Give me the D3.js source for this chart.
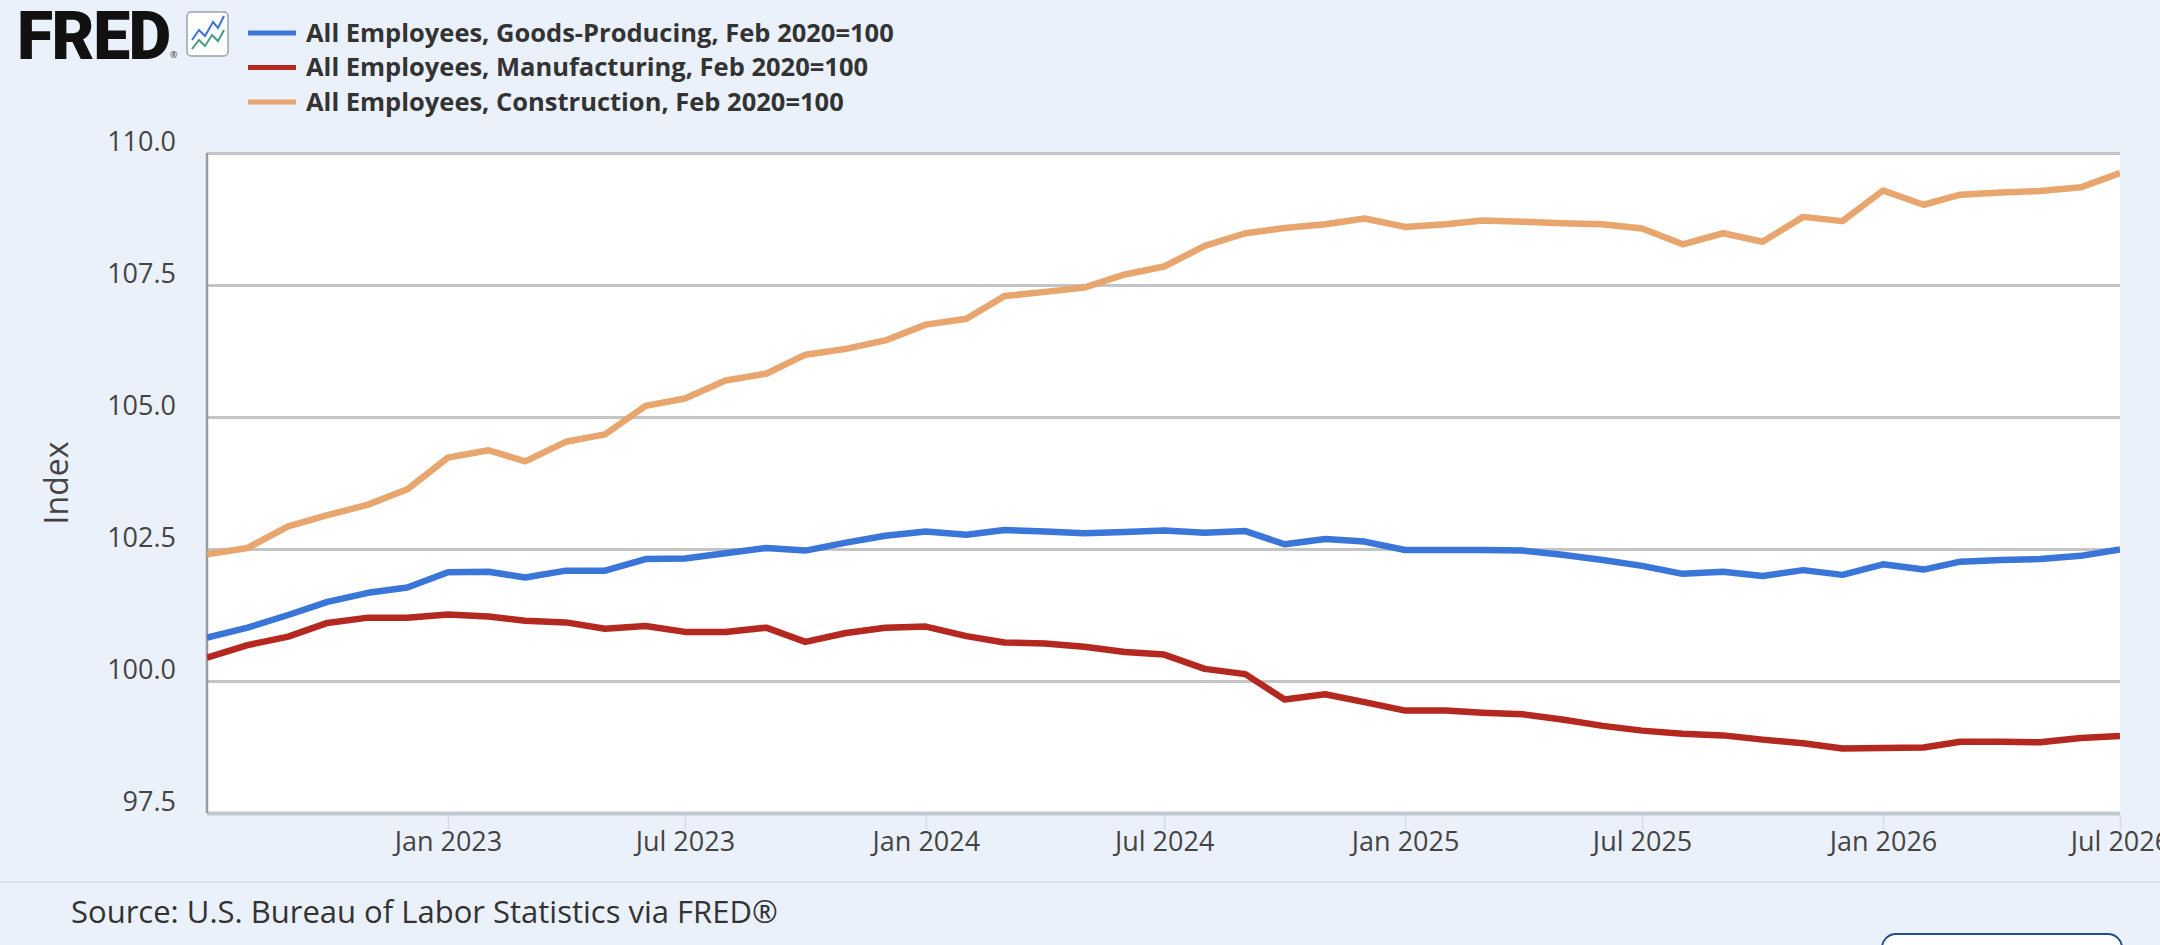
<!DOCTYPE html>
<meta charset="utf-8">
<script src="https://cdn.jsdelivr.net/npm/d3@7"></script>
<style>
  body { margin: 0; background: #ebf1fa; }
  text { font-family: "Open Sans", Roboto, "Noto Sans", Arial, sans-serif; }
</style>
<div id="chart"></div>
<script>

// monthly observations, Jul 2022 .. Jul 2026
var months = ["2022-07","2022-08","2022-09","2022-10","2022-11","2022-12",
  "2023-01","2023-02","2023-03","2023-04","2023-05","2023-06","2023-07","2023-08","2023-09","2023-10","2023-11","2023-12",
  "2024-01","2024-02","2024-03","2024-04","2024-05","2024-06","2024-07","2024-08","2024-09","2024-10","2024-11","2024-12",
  "2025-01","2025-02","2025-03","2025-04","2025-05","2025-06","2025-07","2025-08","2025-09","2025-10","2025-11","2025-12",
  "2026-01","2026-02","2026-03","2026-04","2026-05","2026-06","2026-07"];

var goodsProducing = [100.82,101.01,101.25,101.50,101.67,101.77,
  102.06,102.07,101.96,102.09,102.09,102.31,102.32,102.42,102.52,102.47,102.62,102.75,
  102.83,102.77,102.86,102.83,102.80,102.82,102.85,102.81,102.84,102.59,102.69,102.64,
  102.48,102.48,102.48,102.47,102.39,102.29,102.18,102.03,102.07,101.99,102.10,102.01,
  102.21,102.11,102.26,102.29,102.31,102.37,102.49];

var manufacturing = [100.44,100.68,100.84,101.10,101.20,101.20,
  101.26,101.22,101.14,101.11,100.99,101.04,100.93,100.93,101.01,100.74,100.91,101.01,
  101.03,100.85,100.73,100.71,100.65,100.55,100.50,100.23,100.13,99.65,99.75,99.60,
  99.44,99.44,99.40,99.37,99.27,99.15,99.06,99.00,98.97,98.89,98.82,98.72,
  98.73,98.74,98.85,98.85,98.84,98.92,98.96];

var construction = [102.40,102.52,102.93,103.14,103.34,103.63,
  104.23,104.37,104.16,104.53,104.67,105.21,105.35,105.69,105.82,106.18,106.29,106.45,
  106.75,106.86,107.29,107.37,107.45,107.70,107.85,108.24,108.48,108.58,108.65,108.76,
  108.60,108.65,108.72,108.70,108.67,108.65,108.57,108.27,108.48,108.32,108.79,108.71,
  109.29,109.02,109.21,109.25,109.28,109.35,109.62];

var seriesNames = ["All Employees, Goods-Producing, Feb 2020=100",
                   "All Employees, Manufacturing, Feb 2020=100",
                   "All Employees, Construction, Feb 2020=100"];
var seriesColors = ["#3a75d8", "#b5281f", "#e8a66e"];

var yTicks = [97.5, 100.0, 102.5, 105.0, 107.5, 110.0];
var xTicks = ["2023-01","2023-07","2024-01","2024-07","2025-01","2025-07","2026-01","2026-07"];

var W = 2160, H = 945;
var margin = {top: 153, right: 40, bottom: 132, left: 207};

var parse = d3.timeParse("%Y-%m");
var dates = months.map(parse);

var svg = d3.select("#chart").append("svg")
  .attr("width", W).attr("height", H);

svg.append("rect").attr("width", W).attr("height", H).attr("fill", "#ebf1fa");

var x = d3.scaleTime()
  .domain(d3.extent(dates))
  .range([margin.left, W - margin.right]);

var y = d3.scaleLinear()
  .domain([97.5, 110])
  .range([H - margin.bottom, margin.top]);

// plot background
svg.append("rect")
  .attr("x", x.range()[0]).attr("y", y(110))
  .attr("width", x.range()[1] - x.range()[0])
  .attr("height", y(97.5) - y(110))
  .attr("fill", "#fff");

// gridlines + y labels (labels sit a little above their line)
var yAxis = svg.append("g")
  .attr("transform", "translate(" + margin.left + ",0)")
  .call(d3.axisLeft(y).tickValues(yTicks).tickFormat(d3.format(".1f"))
    .tickSize(-(x.range()[1] - x.range()[0])).tickPadding(31));
yAxis.select(".domain").remove();
yAxis.selectAll(".tick line").attr("stroke", "#c4c4c4").attr("stroke-width", 3);
yAxis.selectAll(".tick text").attr("fill", "#444").attr("dy", "-0.09em").style("font-size", "27px");
yAxis.selectAll(".tick").filter(function(d) { return d === 97.5; })
  .select("line").attr("stroke", "#c3c8d0").attr("stroke-width", 4);

// left border
svg.append("line")
  .attr("x1", margin.left).attr("x2", margin.left)
  .attr("y1", y(110)).attr("y2", y(97.5))
  .attr("stroke", "#9a9a9a").attr("stroke-width", 2.5);

// x axis
var xAxis = svg.append("g")
  .attr("transform", "translate(0," + (y(97.5) + 2) + ")")
  .call(d3.axisBottom(x).tickValues(xTicks.map(parse))
    .tickFormat(d3.timeFormat("%b %Y")).tickSize(15).tickPadding(2));
xAxis.select(".domain").remove();
xAxis.selectAll(".tick line").attr("stroke", "#d3dcea").attr("stroke-width", 1.5);
xAxis.selectAll(".tick text").attr("fill", "#444").style("font-size", "27px");

// y axis title
svg.append("text")
  .attr("transform", "translate(57," + ((y(97.5) + y(110)) / 2) + ") rotate(-90)")
  .attr("text-anchor", "middle")
  .attr("dy", "0.35em")
  .attr("fill", "#444")
  .style("font-size", "32px")
  .text("Index");

// lines
svg.append("clipPath").attr("id", "clip")
  .append("rect")
  .attr("x", x.range()[0]).attr("y", y(110) - 5)
  .attr("width", x.range()[1] - x.range()[0])
  .attr("height", y(97.5) - y(110) + 10);

var line = d3.line()
  .x(function(d, i) { return x(dates[i]); })
  .y(function(d) { return y(d); });

var allSeries = [goodsProducing, manufacturing, construction];
svg.append("g").attr("clip-path", "url(#clip)")
  .selectAll("path")
  .data(allSeries)
  .enter()
  .append("path")
    .attr("d", line)
    .attr("fill", "none")
    .attr("stroke", function(d, i) { return seriesColors[i]; })
    .attr("stroke-width", 6.5)
    .attr("stroke-linejoin", "round");

// FRED logo
svg.append("text")
  .attr("x", 17).attr("y", 59)
  .style("font-family", "Roboto, sans-serif")
  .style("font-size", "66px").style("font-weight", 900)
  .style("letter-spacing", "-1.5px")
  .attr("fill", "#111")
  .text("FRED");
svg.append("text")
  .attr("x", 170).attr("y", 58)
  .style("font-size", "9px")
  .attr("fill", "#333")
  .text("®");

var icon = svg.append("g").attr("transform", "translate(187,12)");
icon.append("rect")
  .attr("width", 41).attr("height", 44).attr("rx", 4)
  .attr("fill", "#fff").attr("stroke", "#9aa3ad").attr("stroke-width", 1.5);
icon.append("polyline")
  .attr("points", "5,28 12,18 18,24 26,10 31,16 37,4")
  .attr("fill", "none").attr("stroke", "#3a75d8").attr("stroke-width", 2);
icon.append("polyline")
  .attr("points", "5,37 12,28 18,34 25,23 31,29 37,18")
  .attr("fill", "none").attr("stroke", "#4a9a88").attr("stroke-width", 2);

// legend
var legend = svg.selectAll(".legend")
  .data(seriesNames)
  .enter()
  .append("g")
    .attr("class", "legend")
    .attr("transform", function(d, i) { return "translate(248," + (33 + i * 34.5) + ")"; });
legend.append("line")
  .attr("x1", 0).attr("x2", 48)
  .attr("stroke", function(d, i) { return seriesColors[i]; })
  .attr("stroke-width", 5);
legend.append("text")
  .attr("x", 58).attr("dy", "0.35em")
  .style("font-size", "25.5px").style("font-weight", 700)
  .attr("fill", "#333")
  .text(function(d) { return d; });

// footer
svg.append("line")
  .attr("x1", 0).attr("x2", W)
  .attr("y1", 882).attr("y2", 882)
  .attr("stroke", "#dbe3ee").attr("stroke-width", 2);

svg.append("text")
  .attr("x", 71).attr("y", 923)
  .style("font-size", "31px")
  .attr("fill", "#333")
  .text("Source: U.S. Bureau of Labor Statistics via FRED®");

svg.append("text")
  .attr("x", 71).attr("y", 966)
  .style("font-size", "26px")
  .attr("fill", "#333")
  .text("Shaded areas indicate U.S. recessions.");

svg.append("rect")
  .attr("x", 1882).attr("y", 934)
  .attr("width", 240).attr("height", 50).attr("rx", 14)
  .attr("fill", "#fff").attr("stroke", "#1f4f8f").attr("stroke-width", 2);

</script>
